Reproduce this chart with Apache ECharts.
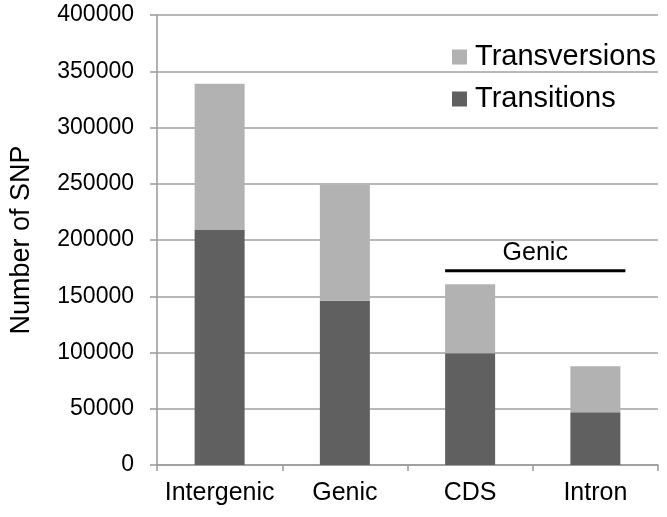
<!DOCTYPE html>
<html>
<head>
<meta charset="utf-8">
<script src="https://cdn.jsdelivr.net/npm/echarts@6/dist/echarts.min.js"></script>
<style>html,body{margin:0;padding:0;background:#fff}#c{width:667px;height:517px}</style>
</head>
<body>
<div id="c"></div>
<script>
var categories = ['Intergenic', 'Genic', 'CDS', 'Intron'];
var transitions = [209000, 146000, 99300, 46800];
var transversions = [130000, 103000, 61300, 40900];
var yTicks = [0, 50000, 100000, 150000, 200000, 250000, 300000, 350000, 400000];
var groupLabel = 'Genic';
var groupLevel = 172700;

var chart = echarts.init(document.getElementById('c'), null, {renderer: 'canvas'});
var font = '"Liberation Sans", Arial, sans-serif';
chart.setOption({
  animation: false,
  backgroundColor: '#fff',
  textStyle: {fontFamily: font},
  grid: {left: 152, right: 9, top: 15, bottom: 52, containLabel: false},
  legend: {
    orient: 'vertical', left: 447, top: 37,
    data: ['Transversions', 'Transitions'],
    itemWidth: 15, itemHeight: 15, itemGap: 12,
    icon: 'rect',
    textStyle: {fontSize: 29, color: '#000', fontFamily: font, padding: [0, 0, 0, 3], lineHeight: 30}
  },
  xAxis: {
    type: 'category', data: categories,
    axisLine: {lineStyle: {color: '#999', width: 1.5}},
    axisTick: {show: true, length: 6, lineStyle: {color: '#999', width: 1.5}},
    axisLabel: {fontSize: 25, color: '#000', margin: 16, interval: 0, fontFamily: font}
  },
  yAxis: {
    type: 'value', min: yTicks[0], max: yTicks[yTicks.length - 1], interval: 50000,
    name: 'Number of SNP', nameLocation: 'middle', nameGap: 122, nameRotate: 90,
    nameTextStyle: {fontSize: 27, color: '#000', fontFamily: font},
    axisLine: {show: true, lineStyle: {color: '#999', width: 1.5}},
    axisTick: {show: true, length: 7, lineStyle: {color: '#999', width: 1.5}},
    axisLabel: {fontSize: 23, color: '#000', margin: 23, fontFamily: font,
      formatter: function (v) { return String(v); }},
    splitLine: {lineStyle: {color: '#a0a0a0', width: 1.5}}
  },
  series: [
    {name: 'Transitions', type: 'bar', stack: 'snp', data: transitions, barWidth: 50,
     itemStyle: {color: '#606060'}},
    {name: 'Transversions', type: 'bar', stack: 'snp', data: transversions, barWidth: 50,
     itemStyle: {color: '#b2b2b2'}}
  ]
});

function drawGroup() {
  var y = chart.convertToPixel({yAxisIndex: 0}, groupLevel);
  var xs = chart.convertToPixel({xAxisIndex: 0}, 'CDS');
  var xe = chart.convertToPixel({xAxisIndex: 0}, 'Intron');
  var x1 = xs - 25, x2 = xe + 30;
  chart.setOption({
    graphic: [
      {type: 'line', shape: {x1: x1, y1: y, x2: x2, y2: y}, style: {stroke: '#000', lineWidth: 3}},
      {type: 'text', x: (x1 + x2) / 2, y: y - 5,
       style: {text: groupLabel, fontSize: 25, fontFamily: font, fill: '#000', align: 'center', verticalAlign: 'bottom'}}
    ]
  });
}
drawGroup();
</script>
</body>
</html>
